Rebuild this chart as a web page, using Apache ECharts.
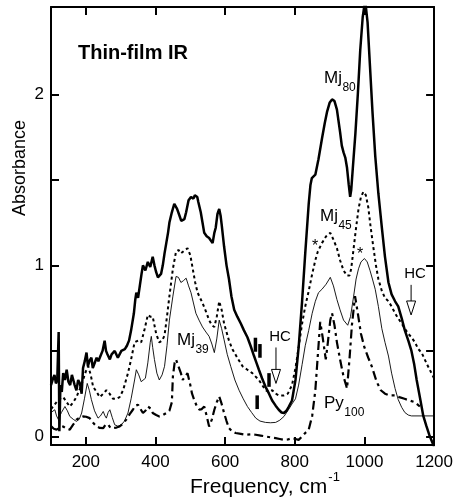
<!DOCTYPE html>
<html>
<head>
<meta charset="utf-8">
<script src="https://cdn.jsdelivr.net/npm/echarts@6/dist/echarts.min.js"></script>
<style>
html, body { margin: 0; padding: 0; background: #fff; }
#chart { width: 456px; height: 501px; }
</style>
</head>
<body>
<div id="chart"></div>
<script>
// tick positions
var xTicks = [200, 400, 600, 800, 1000, 1200];
var yTicks = [0, 0.5, 1, 1.5, 2];
var yLabels = [0, 1, 2];

// spectra, [frequency (cm-1), absorbance]
var mj80 = [[100,0.30],[106,0.34],[110,0.36],[114,0.31],[118,0.33],[122,0.61],[124,0.03],[127,0.30],[131,0.26],[135,0.37],[140,0.33],[145,0.39],[150,0.32],[155,0.30],[160,0.36],[164,0.35],[168,0.30],[173,0.27],[178,0.33],[183,0.31],[188,0.25],[192,0.40],[197,0.44],[202,0.49],[206,0.41],[210,0.44],[216,0.46],[220,0.40],[224,0.41],[231,0.46],[236,0.44],[242,0.47],[248,0.50],[254,0.56],[258,0.50],[262,0.48],[269,0.45],[274,0.48],[278,0.47],[283,0.50],[288,0.50],[292,0.46],[297,0.47],[302,0.50],[307,0.49],[312,0.51],[318,0.53],[324,0.56],[330,0.62],[338,0.72],[342,0.80],[345,0.84],[350,0.81],[355,0.88],[360,0.95],[364,1.00],[371,0.97],[378,1.02],[385,0.99],[392,1.05],[397,1.00],[402,0.96],[407,0.93],[411,0.92],[416,0.95],[421,1.00],[426,1.07],[431,1.13],[436,1.19],[440,1.25],[447,1.31],[454,1.36],[458,1.35],[462,1.33],[469,1.29],[474,1.26],[478,1.25],[483,1.27],[488,1.31],[495,1.38],[502,1.40],[509,1.39],[513,1.41],[516,1.42],[520,1.40],[523,1.37],[530,1.31],[535,1.25],[540,1.19],[547,1.17],[554,1.16],[559,1.15],[564,1.13],[569,1.19],[573,1.22],[578,1.30],[583,1.33],[587,1.29],[590,1.24],[597,1.11],[604,1.00],[611,0.92],[618,0.82],[626,0.74],[635,0.70],[645,0.66],[654,0.62],[664,0.58],[673,0.53],[683,0.47],[690,0.43],[697,0.39],[706,0.34],[716,0.29],[726,0.25],[735,0.21],[745,0.18],[754,0.156],[762,0.14],[769,0.137],[776,0.15],[783,0.175],[792,0.21],[802,0.33],[811,0.52],[821,0.79],[830,1.07],[840,1.36],[845,1.47],[849,1.51],[859,1.53],[868,1.62],[878,1.74],[886,1.83],[893,1.90],[900,1.95],[907,1.97],[914,1.96],[921,1.91],[930,1.78],[935,1.70],[940,1.66],[945,1.63],[950,1.57],[955,1.47],[959,1.40],[962,1.44],[966,1.55],[974,1.77],[981,2.00],[988,2.26],[995,2.45],[1002,2.55],[1009,2.42],[1016,2.16],[1023,1.90],[1031,1.64],[1040,1.42],[1050,1.22],[1059,1.05],[1069,0.90],[1078,0.83],[1088,0.79],[1097,0.76],[1107,0.69],[1116,0.62],[1126,0.56],[1135,0.50],[1143,0.42],[1150,0.33],[1160,0.22],[1169,0.12],[1178,0.06],[1186,0.01],[1200,-0.06]];

var mj45 = [[100,0.16],[116,0.20],[125,0.22],[135,0.23],[145,0.20],[154,0.175],[164,0.20],[173,0.23],[183,0.28],[192,0.33],[200,0.38],[207,0.41],[214,0.36],[221,0.29],[231,0.26],[240,0.23],[250,0.25],[259,0.27],[268,0.25],[278,0.22],[288,0.22],[297,0.23],[307,0.27],[321,0.37],[330,0.45],[340,0.55],[350,0.56],[359,0.55],[368,0.62],[378,0.71],[385,0.70],[392,0.70],[402,0.60],[411,0.55],[419,0.56],[426,0.59],[433,0.70],[440,0.82],[450,0.98],[459,1.08],[466,1.09],[473,1.07],[478,1.07],[485,1.09],[492,1.10],[500,1.06],[507,0.98],[514,0.90],[521,0.84],[535,0.78],[545,0.73],[554,0.68],[562,0.65],[569,0.64],[576,0.70],[583,0.79],[590,0.74],[597,0.66],[611,0.56],[621,0.51],[635,0.46],[650,0.41],[664,0.39],[678,0.37],[697,0.33],[716,0.27],[726,0.26],[735,0.27],[745,0.25],[754,0.24],[769,0.24],[780,0.25],[792,0.30],[802,0.40],[811,0.52],[821,0.66],[830,0.76],[840,0.85],[850,0.95],[859,1.03],[866,1.08],[878,1.13],[890,1.17],[902,1.19],[911,1.15],[921,1.10],[930,1.03],[940,0.97],[950,0.94],[957,0.94],[962,0.98],[969,1.10],[976,1.22],[983,1.33],[990,1.40],[997,1.43],[1004,1.41],[1011,1.34],[1018,1.22],[1026,1.10],[1033,1.00],[1040,0.92],[1050,0.85],[1059,0.81],[1069,0.79],[1078,0.76],[1088,0.72],[1097,0.69],[1107,0.66],[1116,0.63],[1126,0.60],[1135,0.58],[1145,0.55],[1155,0.51],[1164,0.49],[1180,0.42],[1200,0.34]];

var mj39 = [[100,0.14],[111,0.156],[116,0.12],[121,0.10],[130,0.14],[140,0.175],[147,0.15],[154,0.117],[164,0.10],[173,0.088],[181,0.10],[188,0.137],[196,0.22],[204,0.31],[210,0.27],[216,0.215],[225,0.15],[235,0.107],[242,0.12],[250,0.146],[255,0.12],[259,0.107],[264,0.14],[269,0.156],[276,0.11],[283,0.068],[292,0.06],[302,0.068],[311,0.09],[321,0.137],[330,0.22],[340,0.33],[345,0.39],[352,0.36],[359,0.32],[364,0.31],[371,0.34],[378,0.43],[385,0.55],[388,0.585],[392,0.52],[397,0.45],[404,0.37],[411,0.33],[419,0.36],[426,0.41],[433,0.53],[440,0.68],[450,0.82],[459,0.935],[466,0.93],[473,0.90],[480,0.91],[488,0.925],[495,0.88],[502,0.84],[509,0.78],[516,0.72],[525,0.68],[535,0.64],[545,0.61],[554,0.585],[562,0.54],[569,0.49],[576,0.57],[583,0.68],[590,0.63],[597,0.565],[606,0.48],[616,0.41],[628,0.33],[640,0.27],[652,0.22],[664,0.175],[676,0.14],[688,0.107],[700,0.09],[716,0.082],[730,0.08],[745,0.082],[757,0.095],[769,0.117],[783,0.16],[792,0.19],[802,0.22],[811,0.30],[821,0.42],[830,0.53],[840,0.62],[850,0.72],[859,0.79],[868,0.84],[878,0.86],[890,0.89],[902,0.93],[911,0.88],[921,0.80],[930,0.74],[940,0.68],[952,0.65],[960,0.70],[969,0.82],[976,0.92],[983,0.98],[990,1.02],[1000,1.04],[1008,1.02],[1016,0.97],[1023,0.92],[1031,0.86],[1040,0.76],[1050,0.63],[1059,0.55],[1069,0.47],[1078,0.37],[1088,0.28],[1097,0.215],[1107,0.17],[1116,0.14],[1126,0.125],[1135,0.12],[1200,0.12]];

var py100 = [[100,0.06],[108,0.045],[116,0.04],[125,0.05],[135,0.058],[145,0.045],[154,0.04],[164,0.07],[173,0.098],[183,0.11],[192,0.117],[201,0.115],[211,0.107],[221,0.08],[231,0.058],[240,0.05],[250,0.049],[257,0.07],[264,0.07],[271,0.05],[278,0.049],[288,0.052],[297,0.058],[307,0.075],[316,0.098],[326,0.13],[335,0.156],[342,0.18],[350,0.185],[357,0.16],[364,0.137],[371,0.15],[378,0.175],[383,0.185],[388,0.16],[392,0.137],[402,0.125],[411,0.117],[421,0.125],[431,0.137],[440,0.15],[447,0.2],[450,0.35],[455,0.43],[459,0.45],[464,0.42],[469,0.41],[473,0.37],[478,0.33],[485,0.35],[492,0.37],[500,0.30],[505,0.25],[511,0.215],[518,0.18],[526,0.156],[533,0.16],[540,0.175],[547,0.12],[554,0.058],[562,0.10],[569,0.156],[576,0.2],[583,0.234],[590,0.19],[597,0.137],[604,0.09],[611,0.049],[620,0.03],[630,0.02],[645,0.015],[659,0.01],[673,0.012],[688,0.01],[702,0.005],[716,0.0],[730,-0.005],[745,-0.01],[757,-0.015],[769,-0.02],[780,-0.018],[792,-0.01],[802,-0.015],[811,-0.02],[821,0.0],[830,0.02],[840,0.04],[850,0.12],[859,0.27],[866,0.47],[873,0.67],[880,0.58],[889,0.45],[895,0.55],[902,0.68],[907,0.72],[914,0.65],[921,0.55],[930,0.45],[940,0.35],[950,0.28],[957,0.45],[964,0.65],[973,0.82],[981,0.72],[990,0.60],[1000,0.52],[1011,0.46],[1021,0.41],[1035,0.32],[1047,0.27],[1059,0.25],[1071,0.24],[1088,0.24],[1100,0.23],[1115,0.22],[1130,0.21],[1145,0.20],[1159,0.175]];

// short bar marks [freq, abs from, abs to]
var bars = [[687,0.495,0.577],[700,0.46,0.54],[726,0.29,0.37],[692,0.16,0.24]];
// HC arrows [freq, abs start, abs tip]
var hcArrows = [[746,0.52,0.31],[1134,0.886,0.71]];

var FONT = '"Liberation Sans", Arial, Helvetica, sans-serif';
var chart = echarts.init(document.getElementById('chart'));

function frameAxis(pos, isX, labels) {
    var ax = {
        type: 'value',
        position: pos,
        splitLine: { show: false },
        axisLine: { show: true, onZero: false, lineStyle: { color: '#000', width: 2 } },
        axisTick: { show: true, inside: true, length: 8, lineStyle: { color: '#000', width: 2 },
                    customValues: isX ? xTicks : yTicks },
        axisLabel: { show: labels, color: '#000', fontSize: 17, fontFamily: FONT,
                     margin: isX ? 9 : 7, customValues: isX ? xTicks : yLabels,
                     formatter: function (v) { return String(v); } }
    };
    if (isX) { ax.min = 100; ax.max = 1200; } else { ax.min = -0.05; ax.max = 2.51; }
    return ax;
}

function spectrum(name, data, width, type) {
    return {
        name: name, type: 'line', data: data, showSymbol: false, symbol: 'none',
        xAxisIndex: 0, yAxisIndex: 0,
        lineStyle: { color: '#000', width: width, type: type }
    };
}

option = {
    animation: false,
    backgroundColor: '#fff',
    grid: { left: 51, right: 20, top: 7, bottom: 56 },
    xAxis: [frameAxis('bottom', true, true), frameAxis('top', true, false)],
    yAxis: [frameAxis('left', false, true), frameAxis('right', false, false)],
    series: [
        spectrum('Py100', py100, 2.2, [9, 4, 3, 4]),
        spectrum('Mj39', mj39, 0.9, 'solid'),
        spectrum('Mj45', mj45, 2, [3, 3]),
        spectrum('Mj80', mj80, 2.5, 'solid')
    ]
};
chart.setOption(option);

// annotations
var ctx = document.createElement('canvas').getContext('2d');
function textW(s, size, weight) {
    ctx.font = (weight || 'normal') + ' ' + size + 'px ' + FONT;
    return ctx.measureText(s).width;
}
function px(x, y) { return chart.convertToPixel({ xAxisIndex: 0, yAxisIndex: 0 }, [x, y]); }
function txt(s, x, y, size, extra) {
    var st = { text: s, x: x, y: y, fill: '#000', fontSize: size, fontFamily: FONT,
               align: 'left', verticalAlign: 'middle' };
    for (var k in extra) st[k] = extra[k];
    return { type: 'text', style: st, z: 10 };
}
function subLabel(main, sub, x, y) {
    var w = textW(main, 17);
    return [txt(main, x, y, 17), txt(sub, x + w + 0.5, y + 10, 12)];
}

var g = [];
g.push(txt('Thin-film IR', 78, 53, 20, { fontWeight: 'bold' }));
g = g.concat(subLabel('Mj', '80', 324, 78));
g = g.concat(subLabel('Mj', '45', 320, 216));
g = g.concat(subLabel('Mj', '39', 177, 340));
g = g.concat(subLabel('Py', '100', 324, 403));
g.push(txt('*', 312, 247, 16));
g.push(txt('*', 357, 255, 16));

bars.forEach(function (b) {
    var p1 = px(b[0], b[1]), p2 = px(b[0], b[2]);
    g.push({ type: 'line', shape: { x1: p1[0], y1: p1[1], x2: p2[0], y2: p2[1] },
             style: { stroke: '#000', lineWidth: 3.5 }, z: 10 });
});
hcArrows.forEach(function (a) {
    var p1 = px(a[0], a[1]), p2 = px(a[0], a[2]);
    g.push({ type: 'line', shape: { x1: p1[0], y1: p1[1], x2: p2[0], y2: p2[1] - 12 },
             style: { stroke: '#000', lineWidth: 1 }, z: 10 });
    g.push({ type: 'polygon', shape: { points: [[p2[0] - 4.5, p2[1] - 14], [p2[0] + 4.5, p2[1] - 14], [p2[0], p2[1]]] },
             style: { fill: '#fff', stroke: '#000', lineWidth: 1 }, z: 11 });
    g.push(txt('HC', p1[0] + 4, p1[1] - 11, 15, { align: 'center' }));
});

// axis titles
g.push({ type: 'text', x: 20, y: 168, rotation: Math.PI / 2,
         style: { text: 'Absorbance', fill: '#000', fontSize: 18, fontFamily: FONT,
                  align: 'center', verticalAlign: 'middle' } });
var xt = 'Frequency, cm';
var xtW = textW(xt, 21);
g.push(txt(xt, 190, 487, 21));
g.push(txt('-1', 190 + xtW + 1, 477, 13));

chart.setOption({ graphic: g });
</script>
</body>
</html>
